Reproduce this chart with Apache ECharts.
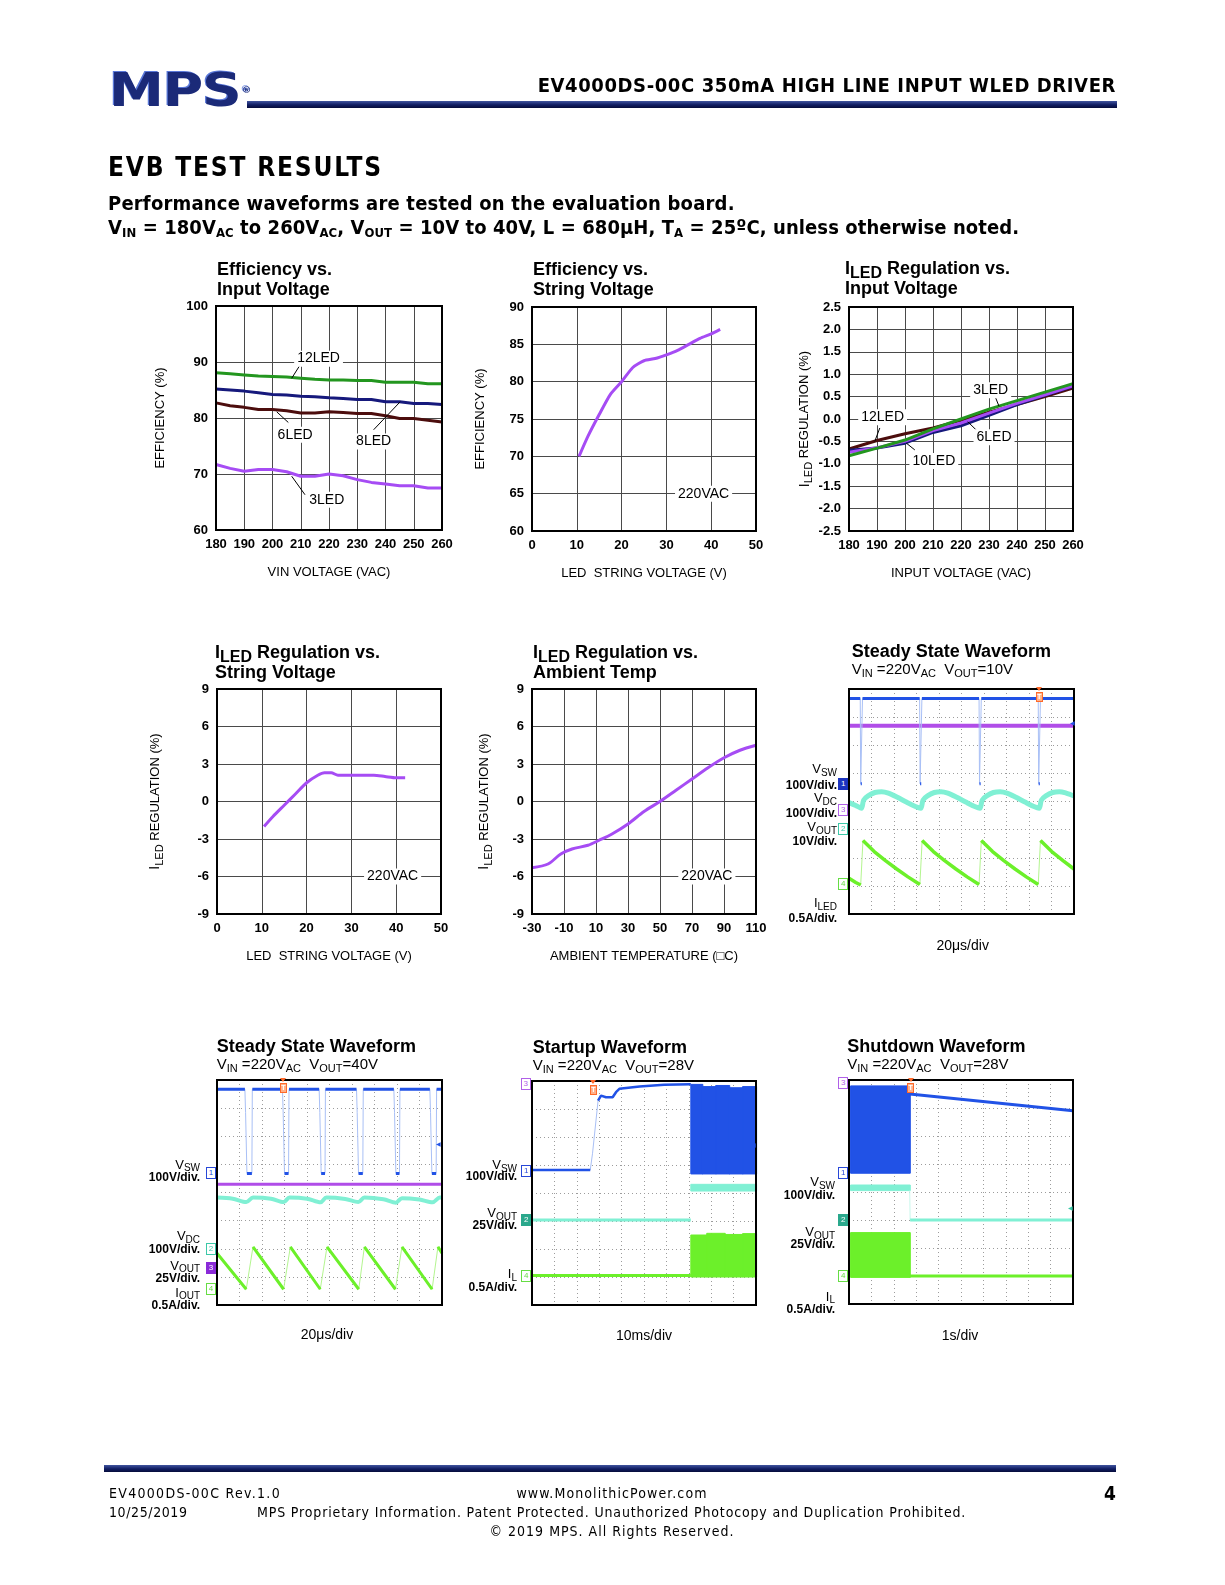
<!DOCTYPE html>
<html><head><meta charset="utf-8">
<script src="https://cdn.jsdelivr.net/npm/echarts/dist/echarts.min.js"></script>
<style>
body{margin:0;background:#fff;}
#page{position:relative;width:1225px;height:1585px;overflow:hidden;background:#fff;}
#chart{position:absolute;left:0;top:0;width:1225px;height:1585px;}
.t{position:absolute;white-space:nowrap;color:#000;}
.hd{font-family:'DejaVu Sans Condensed','DejaVu Sans',sans-serif;}
.ar{font-family:'Liberation Sans',Arial,Helvetica,sans-serif;}
.t sub{position:relative;vertical-align:baseline;line-height:0;}
.sh{font-size:13px;top:3px;}
.st{font-size:16px;top:4px;}
.sv{font-size:11px;top:3px;}
.sl{font-size:10px;top:2.5px;}
.box{position:absolute;width:8px;height:10px;border:1px solid;font:8px/10px 'Liberation Sans',Arial,sans-serif;text-align:center;box-sizing:content-box;}
</style></head>
<body><div id="page"><div id="chart"></div></div>
<script>
// ================= DATA =================
// Efficiency vs. Input Voltage
const vinSteps5 = [180,185,190,195,200,205,210,215,220,225,230,235,240,245,250,255,260];
const eff12LED = [88.1,87.9,87.7,87.5,87.4,87.3,87.1,86.9,86.8,86.8,86.7,86.7,86.4,86.4,86.4,86.1,86.1];
const eff8LED  = [85.2,85.0,84.8,84.5,84.2,84.1,83.9,83.8,83.6,83.5,83.3,83.3,82.9,82.9,82.6,82.6,82.4];
const eff6LED  = [82.7,82.2,81.9,81.5,81.5,81.3,80.9,80.9,81.1,81.0,80.8,80.8,80.4,79.9,79.9,79.6,79.3];
const eff3LED  = [71.7,71.0,70.5,70.8,70.8,70.4,69.6,69.6,70.0,69.7,69.0,68.5,68.2,67.9,67.9,67.5,67.5];
// Efficiency vs. String Voltage (220VAC)
const strVoltA = [10.5,12.5,15,17.5,20,22.5,25,27.5,30,32.5,35,37.5,40,42];
const effVsStr = [70.0,72.7,75.6,78.3,80.0,81.9,82.8,83.1,83.6,84.2,85.0,85.8,86.4,87.0];
// ILED regulation vs. Input Voltage
const vinSteps10 = [180,190,200,210,220,230,240,250,260];
const reg12LED = [-0.67,-0.48,-0.33,-0.20,-0.03,0.15,0.32,0.50,0.69];
const reg10LED = [-0.70,-0.65,-0.54,-0.30,-0.15,0.08,0.32,0.53,0.73];
const reg6LED  = [-0.74,-0.64,-0.50,-0.26,-0.09,0.13,0.35,0.54,0.74];
const reg3LED  = [-0.82,-0.65,-0.47,-0.22,0.00,0.22,0.41,0.60,0.79];
// ILED regulation vs. String Voltage (220VAC)
const strVoltB = [10.5,12.5,15,17.5,20,22.5,24,25.5,27,30,35,37.5,40,42];
const regVsStr = [-2.0,-1.2,-0.3,0.6,1.5,2.1,2.3,2.3,2.1,2.1,2.1,2.0,1.9,1.9];
// ILED regulation vs. Ambient Temp (220VAC)
const ambTemp   = [-30,-20,-12,-5,5,12,20,30,40,50,60,70,80,90,100,110];
const regVsTemp = [-5.3,-5.0,-4.2,-3.8,-3.5,-3.1,-2.6,-1.8,-0.8,0.0,0.9,1.8,2.7,3.5,4.1,4.5];
// axis ranges [min,max,interval]
const axVin = [180,260,10], axEff1 = [60,100,10], axStr = [0,50,10], axEff2 = [60,90,5];
const axReg1 = [-2.5,2.5,0.5], axReg2 = [-9,9,3], axTemp = [-30,110,20];
const axDivX = [0,10,1], axDivY = [0,8,1];

// Scope traces, in divisions [x div, y div]
// Steady state, VOUT=10V
const ss10Ch1 = [[0,7.66],[0.5,7.66],[0.52,4.63],[0.57,4.63],[0.6,7.66],[3.14,7.66],[3.16,4.63],[3.21,4.63],[3.24,7.66],[5.78,7.66],[5.8,4.63],[5.85,4.63],[5.88,7.66],[8.41,7.66],[8.43,4.63],[8.48,4.63],[8.51,7.66],[10,7.66]];
const ss10Ch3 = [[0,6.69],[10,6.69]];
const ss10Ch2 = [[0,3.96],[0.3,3.86],[0.55,3.76],[0.65,4.05],[0.85,4.2],[1.15,4.32],[1.45,4.35],[1.75,4.3],[2.15,4.15],[2.55,3.98],[2.95,3.82],[3.19,3.76],[3.29,4.05],[3.49,4.2],[3.79,4.32],[4.09,4.35],[4.39,4.3],[4.79,4.15],[5.19,3.98],[5.59,3.82],[5.82,3.76],[5.92,4.05],[6.12,4.2],[6.42,4.32],[6.72,4.35],[7.02,4.3],[7.42,4.15],[7.82,3.98],[8.22,3.82],[8.45,3.76],[8.55,4.05],[8.75,4.2],[9.05,4.32],[9.35,4.35],[9.65,4.3],[10,4.2]];
const ss10Ch4 = [[0,1.27],[0.3,1.12],[0.52,1.03],[0.62,2.61],[1.12,2.22],[1.62,1.9],[2.12,1.6],[2.62,1.32],[3.15,1.05],[3.25,2.61],[3.75,2.22],[4.25,1.9],[4.75,1.6],[5.25,1.32],[5.78,1.05],[5.88,2.61],[6.38,2.22],[6.88,1.9],[7.38,1.6],[7.88,1.32],[8.41,1.05],[8.51,2.61],[9.01,2.22],[9.51,1.9],[10,1.6]];
// Steady state, VOUT=40V
const ss40Ch1 = [[0,7.67],[1.24,7.67],[1.27,6.85],[1.33,4.68],[1.55,4.68],[1.57,7.67],[2.91,7.67],[2.94,6.85],[3.0,4.68],[3.18,4.68],[3.2,7.67],[4.54,7.67],[4.57,6.85],[4.63,4.68],[4.8,4.68],[4.82,7.67],[6.2,7.67],[6.23,6.85],[6.29,4.68],[6.48,4.68],[6.5,7.67],[7.86,7.67],[7.89,6.85],[7.95,4.68],[8.11,4.68],[8.13,7.67],[9.46,7.67],[9.49,6.85],[9.55,4.68],[9.74,4.68],[9.76,7.67],[10,7.67]];
const ss40Ch3 = [[0,4.29],[10,4.29]];
const ss40Ch2 = [[0,3.82],[0.7,3.78],[1.3,3.66],[1.6,3.82],[2.4,3.78],[2.96,3.66],[3.22,3.82],[4.0,3.78],[4.6,3.65],[4.86,3.82],[5.7,3.77],[6.28,3.66],[6.55,3.82],[7.4,3.76],[7.95,3.64],[8.22,3.8],[9.0,3.75],[9.58,3.65],[9.9,3.82],[10,3.82]];
const ss40Ch4 = [[0,1.84],[1.3,0.56],[1.6,2.07],[2.96,0.56],[3.26,2.07],[4.59,0.56],[4.89,2.07],[6.3,0.56],[6.55,2.07],[7.93,0.56],[8.22,2.07],[9.56,0.56],[9.82,2.07],[10,1.84]];
// Startup
const stCh1 = [[0,4.82],[2.6,4.82],[2.7,5.4],[2.95,7.3],[3.08,7.48],[3.3,7.42],[3.6,7.42],[3.75,7.6],[3.9,7.72],[4.8,7.8],[5.9,7.87],[7.09,7.88]];
const stCh1Burst = [[7.09,7.6,4.68,7.88],[7.6,8.2,4.68,7.8],[8.2,8.8,4.68,7.84],[8.8,9.4,4.68,7.76],[9.4,10,4.68,7.8]];
const stCh2 = [[0,3.04],[7.09,3.04]];
const stCh2Burst = [[7.09,10,4.07,4.31]];
const stCh4 = [[0,1.05],[7.09,1.05]];
const stCh4Burst = [[7.09,7.8,1.0,2.5],[7.8,8.6,1.0,2.56],[8.6,9.4,1.0,2.52],[9.4,10,1.0,2.55]];
// Shutdown
const sdCh1Burst = [[0.07,2.71,4.67,7.79]];
const sdCh1 = [[2.71,7.5],[10,6.9]];
const sdCh2Burst = [[0.07,2.71,4.05,4.25]];
const sdCh2 = [[2.71,4.05],[2.73,3.0],[10,3.0]];
const sdCh4Burst = [[0.07,2.71,0.95,2.55]];
const sdCh4 = [[2.71,1.0],[10,1.0]];

// ================= LAYOUT / STYLE =================
const FONT = "'Liberation Sans', Arial, Helvetica, sans-serif";
const grids = [
  [216,306,226,224],[532,307,224,224],[849,307,224,224],
  [217,689,224,225],[532,689,224,225],[849,689,225,225],
  [217,1080,225,225],[532,1081,224,224],[849,1080,224,224]
];
const C = {green:'#23961f', navy:'#16197c', maroon:'#4c0d0d', violet:'#a64cf4',
  blue:'#2152e6', lblue:'#a9c0f6', purple:'#b04de8', cyan:'#80f0d4', lcyan:'#c8f8ec', lime:'#6cf02a', llime:'#b4f590'};

const xy = (xs, ys) => xs.map((x,i)=>[x, ys[i]]);
const subRich = {
  i:{fontSize:14,lineHeight:20,color:'#000',fontFamily:FONT},
  s:{fontSize:11,lineHeight:12,verticalAlign:'bottom',color:'#000',fontFamily:FONT},
  n:{fontSize:13,lineHeight:20,color:'#000',fontFamily:FONT}
};
function charAxis(gi, r, name, gap, fmt){
  return {gridIndex:gi, type:'value', min:r[0], max:r[1], interval:r[2],
    axisLine:{show:false}, axisTick:{show:false},
    axisLabel:{show:true, margin:8, fontSize:13, fontWeight:'bold', color:'#000', fontFamily:FONT, hideOverlap:false, showMinLabel:true, showMaxLabel:true, formatter: fmt || (v=>String(v))},
    splitLine:{show:true, lineStyle:{color:'#4a4a4a', width:1}},
    name, nameLocation:'middle', nameGap:gap,
    nameTextStyle:{fontSize:13, color:'#000', fontFamily:FONT, rich:subRich}};
}
function scopeAxis(gi, r){
  return {gridIndex:gi, type:'value', min:r[0], max:r[1], interval:r[2],
    axisLine:{show:false}, axisTick:{show:false}, axisLabel:{show:false},
    splitLine:{show:true, lineStyle:{color:'#9c9c9c', width:1, type:[1,3]}}};
}
function line(gi, data, color, width, smooth){
  return {type:'line', xAxisIndex:gi, yAxisIndex:gi, data, showSymbol:false, symbol:'none',
    smooth: smooth||false, lineStyle:{color, width}, itemStyle:{color}, silent:true, z:3};
}
// break the thick trace where the trace moves fast (fast edges are drawn faint on a scope)
function breakSteep(data){
  const out=[];
  data.forEach((p,i)=>{
    if(i>0){
      const q=data[i-1], dy=Math.abs(p[1]-q[1]), dx=Math.abs(p[0]-q[0])||1e-6;
      if(dy>0.5 && dy/dx>3) out.push([(p[0]+q[0])/2,'-']);
    }
    out.push(p);
  });
  return out;
}
function trace(gi, data, color, light, width){
  const thin = line(gi, data, light, 1); thin.z = 3;
  const thick = line(gi, breakSteep(data), color, width); thick.z = 4;
  return [thin, thick];
}
function burst(gi, rects, color){
  return {type:'custom', xAxisIndex:gi, yAxisIndex:gi, silent:true, z:3, data:rects,
    encode:{x:[0,1], y:[2,3]},
    renderItem:(p, api)=>{
      const a = api.coord([api.value(0), api.value(3)]);
      const b = api.coord([api.value(1), api.value(2)]);
      return {type:'rect', shape:{x:a[0], y:a[1], width:b[0]-a[0]+0.6, height:b[1]-a[1]}, style:{fill:color, stroke:color, lineWidth:1}};
    }};
}
function annotate(s, labels, leaders){
  s.markPoint = {silent:true, symbol:'rect', symbolSize:1, itemStyle:{color:'rgba(0,0,0,0)'},
    label:{show:true, position:'inside', fontSize:14, fontFamily:FONT, color:'#000', backgroundColor:'#fff', padding:[1,3], formatter:p=>p.name},
    data: labels.map(l=>({name:l[0], coord:l[1]}))};
  s.markLine = {silent:true, symbol:['none','none'], lineStyle:{color:'#000', width:1, type:'solid'},
    label:{show:false}, emphasis:{disabled:true},
    data: leaders.map(s2=>[{coord:s2[0]},{coord:s2[1]}])};
  return s;
}
const f1 = v => v.toFixed(1);
const ILED = '{i|I}{s|LED}{n| REGULATION (%)}';

const xAxis = [
  charAxis(0, axVin, 'VIN VOLTAGE (VAC)', 36),
  charAxis(1, axStr, 'LED  STRING VOLTAGE (V)', 36),
  charAxis(2, axVin, 'INPUT VOLTAGE (VAC)', 36),
  charAxis(3, axStr, 'LED  STRING VOLTAGE (V)', 36),
  charAxis(4, axTemp, 'AMBIENT TEMPERATURE (\u25A1C)', 36),
  scopeAxis(5, axDivX), scopeAxis(6, axDivX), scopeAxis(7, axDivX), scopeAxis(8, axDivX)
];
const yAxis = [
  charAxis(0, axEff1, 'EFFICIENCY (%)', 49),
  charAxis(1, axEff2, 'EFFICIENCY (%)', 45),
  charAxis(2, axReg1, ILED, 33, f1),
  charAxis(3, axReg2, ILED, 52),
  charAxis(4, axReg2, ILED, 38),
  scopeAxis(5, axDivY), scopeAxis(6, axDivY), scopeAxis(7, axDivY), scopeAxis(8, axDivY)
];

const series = [];
// chart 1
series.push(line(0, xy(vinSteps5, eff12LED), C.green, 3));
series.push(line(0, xy(vinSteps5, eff8LED), C.navy, 3));
series.push(line(0, xy(vinSteps5, eff6LED), C.maroon, 3));
series.push(annotate(line(0, xy(vinSteps5, eff3LED), C.violet, 3),
  [['12LED',[216.3,90.6]],['6LED',[208,77.0]],['8LED',[235.8,75.8]],['3LED',[219.2,65.4]]],
  [[[209.8,89.5],[206.8,87.1]],[[205.6,79.2],[201.5,81.1]],[[235.8,77.9],[245.2,82.9]],[[211.5,66.3],[206.8,69.6]]]));
// chart 2
series.push(annotate(line(1, xy(strVoltA, effVsStr), C.violet, 3, 0.2), [['220VAC',[38.3,65]]], []));
// chart 3
series.push(line(2, xy(vinSteps10, reg12LED), C.maroon, 3));
series.push(line(2, xy(vinSteps10, reg10LED), C.navy, 3));
series.push(line(2, xy(vinSteps10, reg6LED), C.violet, 3));
series.push(annotate(line(2, xy(vinSteps10, reg3LED), C.green, 3),
  [['12LED',[192.0,0.04]],['3LED',[230.6,0.64]],['6LED',[231.8,-0.41]],['10LED',[210.3,-0.94]]],
  [[[191.0,-0.2],[189.2,-0.5]],[[232.2,0.5],[233.6,0.28]],[[226.0,-0.28],[222.4,-0.06]],[[203.5,-0.69],[200.5,-0.54]]]));
// chart 4
series.push(annotate(line(3, xy(strVoltB, regVsStr), C.violet, 3, 0.25), [['220VAC',[39.2,-6]]], []));
// chart 5
series.push(annotate(line(4, xy(ambTemp, regVsTemp), C.violet, 3, 0.3), [['220VAC',[79.3,-6]]], []));
// chart 6 scope
series.push(line(5, ss10Ch3, C.purple, 4));
series.push(line(5, ss10Ch2, C.cyan, 5, 0.3));
series.push(...trace(5, ss10Ch4, C.lime, C.llime, 3.5));
series.push(...trace(5, ss10Ch1, C.blue, C.lblue, 3));
// chart 7 scope
series.push(line(6, ss40Ch3, C.purple, 3));
series.push(line(6, ss40Ch2, C.cyan, 4, 0.3));
series.push(...trace(6, ss40Ch4, C.lime, C.llime, 3));
series.push(...trace(6, ss40Ch1, C.blue, C.lblue, 3));
// chart 8 scope
series.push(burst(7, stCh1Burst, C.blue), burst(7, stCh2Burst, C.cyan), burst(7, stCh4Burst, C.lime));
series.push(...trace(7, stCh1, C.blue, C.lblue, 2.5));
series.push(line(7, stCh2, C.cyan, 3), line(7, stCh4, C.lime, 3));
// chart 9 scope
series.push(burst(8, sdCh1Burst, C.blue), burst(8, sdCh2Burst, C.cyan), burst(8, sdCh4Burst, C.lime));
series.push(line(8, sdCh1, C.blue, 3));
series.push(...trace(8, sdCh2, C.cyan, C.lcyan, 3));
series.push(line(8, sdCh4, C.lime, 3));

const chart = echarts.init(document.getElementById('chart'), null, {renderer:'canvas'});
chart.setOption({
  animation:false, backgroundColor:'#fff',
  textStyle:{fontFamily:FONT},
  grid: grids.map(g=>({left:g[0], top:g[1], width:g[2], height:g[3], show:false, containLabel:false, outerBoundsMode:'none'})),
  xAxis, yAxis, series
});

// ================= HTML overlays (borders, text) =================
const page = document.getElementById('page');
function add(html, css, cls){
  const d = document.createElement('div');
  d.className = 't ' + (cls||'ar');
  d.innerHTML = html;
  Object.assign(d.style, css);
  page.appendChild(d);
  return d;
}
grids.forEach(g=>{
  const d = document.createElement('div');
  Object.assign(d.style, {position:'absolute', left:(g[0]-1)+'px', top:(g[1]-1)+'px', width:(g[2]-2)+'px', height:(g[3]-2)+'px', border:'2px solid #000', boxSizing:'content-box', pointerEvents:'none'});
  page.appendChild(d);
});
// header
add('MPS<span style="font-size:8px;vertical-align:top;position:relative;top:1px;margin-left:1px;letter-spacing:0">&reg;</span>',
  {left:'109px', top:'67px', font:"900 46px/46px 'DejaVu Sans',sans-serif", color:'#1b2a78', letterSpacing:'-1px', transform:'scaleX(1.2)', transformOrigin:'left center', textShadow:'-1px -1px 0 #5a78d8'});
const grad = 'linear-gradient(#41559f,#101d63 55%,#060c3a)';
const hl = document.createElement('div');
Object.assign(hl.style,{position:'absolute', left:'247px', top:'101px', width:'870px', height:'7px', background:grad});
page.appendChild(hl);
const HF = "'DejaVu Sans Condensed','DejaVu Sans',sans-serif";
add('EV4000DS-00C 350mA HIGH LINE INPUT WLED DRIVER', {right:(1225-1116)+'px', top:'73.5px', font:"bold 20px/22px "+HF, letterSpacing:'0.6px'}, 'hd');
add('EVB TEST RESULTS', {left:'108px', top:'152px', font:"bold 26px/30px "+HF, letterSpacing:'1.8px'}, 'hd');
add('Performance waveforms are tested on the evaluation board.', {left:'108px', top:'191px', font:"bold 20px/24px "+HF, letterSpacing:'0.2px'}, 'hd');
add('V<sub class="sh">IN</sub> = 180V<sub class="sh">AC</sub> to 260V<sub class="sh">AC</sub>, V<sub class="sh">OUT</sub> = 10V to 40V, L = 680μH, T<sub class="sh">A</sub> = 25ºC, unless otherwise noted.',
  {left:'108px', top:'215px', font:"bold 20px/24px "+HF, letterSpacing:'0.08px'}, 'hd');
// footer
const fl = document.createElement('div');
Object.assign(fl.style,{position:'absolute', left:'104px', top:'1465px', width:'1012px', height:'7px', background:grad});
page.appendChild(fl);
const ff = "14px/16px "+HF;
add('EV4000DS-00C Rev.1.0', {left:'109px', top:'1485px', font:ff, letterSpacing:'1.3px'}, 'hd');
add('10/25/2019', {left:'109px', top:'1504px', font:ff, letterSpacing:'0.6px'}, 'hd');
add('www.MonolithicPower.com', {left:'412px', width:'400px', textAlign:'center', top:'1485px', font:ff, letterSpacing:'1.1px'}, 'hd');
add('MPS Proprietary Information. Patent Protected. Unauthorized Photocopy and Duplication Prohibited.', {left:'257px', top:'1504px', font:ff, letterSpacing:'0.85px'}, 'hd');
add('© 2019 MPS. All Rights Reserved.', {left:'412px', width:'400px', textAlign:'center', top:'1523px', font:ff, letterSpacing:'1.0px'}, 'hd');
add('4', {right:(1225-1116)+'px', top:'1482px', font:"bold 19px/22px "+HF}, 'hd');

// chart titles
const TF = "bold 18px/20px 'Liberation Sans',Arial,sans-serif";
[[217,258.5,'Efficiency vs.<br>Input Voltage'],
 [533,258.5,'Efficiency vs.<br>String Voltage'],
 [845,257.5,'I<sub class="st">LED</sub> Regulation vs.<br>Input Voltage'],
 [215,642,'I<sub class="st">LED</sub> Regulation vs.<br>String Voltage'],
 [533,642,'I<sub class="st">LED</sub> Regulation vs.<br>Ambient Temp'],
 [851.7,641,'Steady State Waveform'],
 [216.7,1035.5,'Steady State Waveform'],
 [532.7,1036.5,'Startup Waveform'],
 [847.3,1035.5,'Shutdown Waveform']
].forEach(t=>add(t[2], {left:t[0]+'px', top:t[1]+'px', font:TF}));
const SF = "15px/16px 'Liberation Sans',Arial,sans-serif";
const sub = s => '<sub class="sv">'+s+'</sub>';
[[851.7,660.7,'10V'],[216.7,1056,'40V'],[532.7,1057,'28V'],[847.3,1055.5,'28V']]
  .forEach(t=>add('V'+sub('IN')+' =220V'+sub('AC')+'&nbsp; V'+sub('OUT')+'='+t[2], {left:t[0]+'px', top:t[1]+'px', font:SF}));
// time/div labels
[[962.7,945,'20μs/div'],[327,1334,'20μs/div'],[644,1334.5,'10ms/div'],[960,1334.5,'1s/div']]
  .forEach(t=>add(t[2], {left:(t[0]-60)+'px', width:'120px', textAlign:'center', top:(t[1]-8)+'px', font:"14px/16px 'Liberation Sans',Arial,sans-serif"}));
// scope channel labels: [rightX, centerY, html, kind]
const VL = (v,s)=>v+'<sub class="sl">'+s+'</sub>';
const scopeLabels = [
  [837,769,VL('V','SW'),0],[837,785,'100V/div.',1],[837,798,VL('V','DC'),0],[837,813,'100V/div.',1],
  [837,827,VL('V','OUT'),0],[837,841,'10V/div.',1],[837,903,VL('I','LED'),0],[837,918,'0.5A/div.',1],
  [200,1164.7,VL('V','SW'),0],[200,1177.3,'100V/div.',1],[200,1236,VL('V','DC'),0],[200,1249,'100V/div.',1],
  [200,1265.5,VL('V','OUT'),0],[200,1278,'25V/div.',1],[200,1292.5,VL('I','OUT'),0],[200,1305.5,'0.5A/div.',1],
  [517,1165.3,VL('V','SW'),0],[517,1176.3,'100V/div.',1],[517,1213,VL('V','OUT'),0],[517,1225,'25V/div.',1],
  [517,1274,VL('I','L'),0],[517,1287.3,'0.5A/div.',1],
  [835,1182,VL('V','SW'),0],[835,1195.3,'100V/div.',1],[835,1232,VL('V','OUT'),0],[835,1244,'25V/div.',1],
  [835,1296.7,VL('I','L'),0],[835,1309.3,'0.5A/div.',1]
];
scopeLabels.forEach(l=>{
  if(l[3]===0) add(l[2], {right:(1225-l[0])+'px', top:(l[1]-7)+'px', font:"13px/14px 'Liberation Sans',Arial,sans-serif", textAlign:'right'});
  else add(l[2], {right:(1225-l[0])+'px', top:(l[1]-6.5)+'px', font:"bold 12px/13px 'Liberation Sans',Arial,sans-serif", textAlign:'right'});
});
// channel markers [x, y, digit, color, filled]
const CB='#2848d8', CP='#b060e8', CT='#3cc8a8', CG='#66dd44';
[[843.3,784,'1','#1c34c0',true],[843.3,810,'3',CP,false],[843.3,829.3,'2',CT,false],[843.3,884,'4',CG,false],
 [211,1173.3,'1',CB,false],[211,1248.7,'2',CT,false],[211,1267.7,'3','#8a2ad8',true],[211,1288.7,'4',CG,false],
 [525.7,1084.3,'3',CP,false],[526.3,1170.7,'1',CB,false],[526.3,1220,'2','#2aa88c',true],[526.3,1275.7,'4',CG,false],
 [843.3,1083.3,'3',CP,false],[843.3,1172.7,'1',CB,false],[843.3,1220,'2','#2aa88c',true],[843.3,1276,'4',CG,false]
].forEach(m=>{
  const d=document.createElement('div'); d.className='box'; d.textContent=m[2];
  Object.assign(d.style,{left:(m[0]-5)+'px', top:(m[1]-6)+'px', borderColor:m[3], color:m[4]?'#fff':m[3], background:m[4]?m[3]:'#fff'});
  page.appendChild(d);
});
// trigger markers
[[1039.3,690],[283.3,1081],[593.3,1083],[910.7,1081]].forEach(t=>{
  const a=document.createElement('div');
  Object.assign(a.style,{position:'absolute', left:(t[0]-3)+'px', top:(t[1]-3)+'px', width:0, height:0, borderLeft:'3px solid transparent', borderRight:'3px solid transparent', borderTop:'4px solid #ff6a2a'});
  page.appendChild(a);
  const b=document.createElement('div');
  Object.assign(b.style,{position:'absolute', left:(t[0]-3.5)+'px', top:(t[1]+2)+'px', width:'5px', height:'8px', border:'1px solid #ff6a2a', background:'#ffb08a', color:'#fff', font:"bold 7px/8px 'Liberation Sans',sans-serif", textAlign:'center'});
  b.textContent='T';
  page.appendChild(b);
});
// right-edge level arrows
[[1070,722.7,'#2152e6'],[436,1144.3,'#2152e6'],[751,1145,'#2152e6'],[1068,1208.3,'#3cc8a8']].forEach(a=>{
  add('&#9664;', {left:a[0]+'px', top:(a[1]-4)+'px', font:"6px/8px 'DejaVu Sans',sans-serif", color:a[2]});
});
</script></body></html>
